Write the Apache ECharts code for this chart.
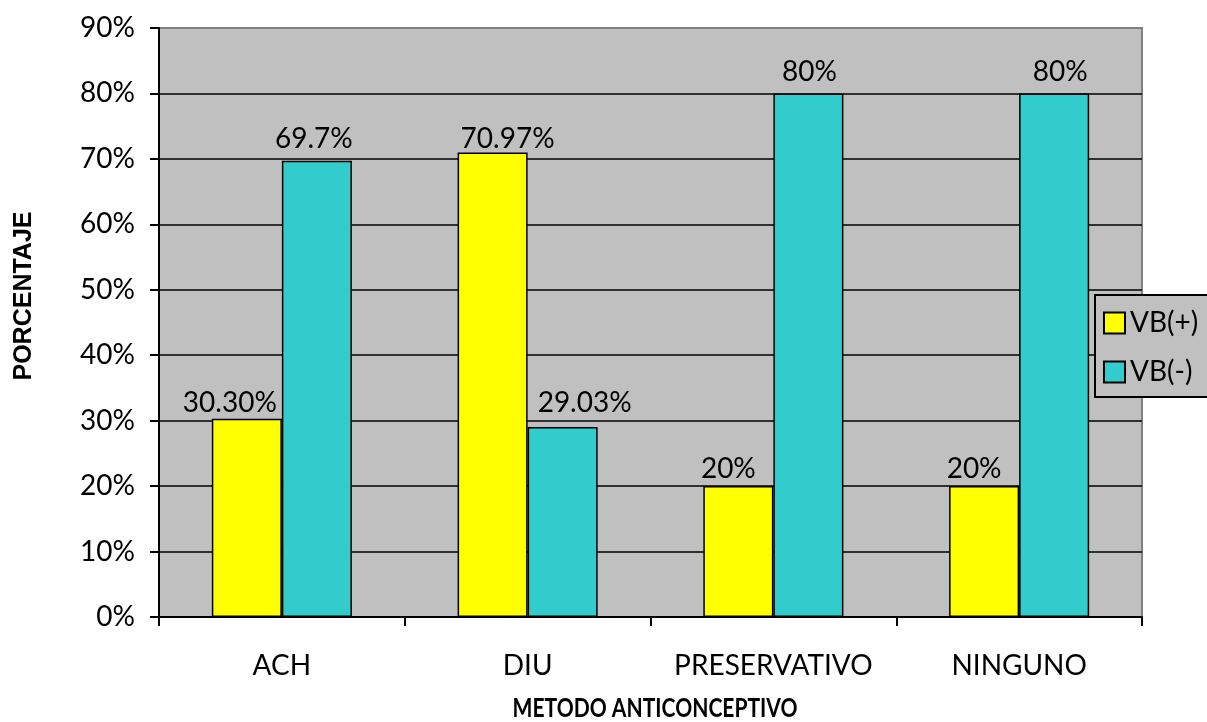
<!DOCTYPE html>
<html>
<head>
<meta charset="utf-8">
<script src="https://cdn.jsdelivr.net/npm/echarts@6/dist/echarts.min.js"></script>
<style>
  html, body { margin: 0; padding: 0; background: #fff; }
  #chart { width: 1207px; height: 722px; }
</style>
</head>
<body>
<div id="chart"></div>
<script>
// Métodos anticonceptivos y resultado VB
const categories = ['ACH', 'DIU', 'PRESERVATIVO', 'NINGUNO'];
const seriesNames = ['VB(+)', 'VB(-)'];
const vbPositivo = [30.30, 70.97, 20, 20];
const vbNegativo = [69.7, 29.03, 80, 80];
// decimals shown in each value label
const vbPositivoDecimals = [2, 2, 0, 0];
const vbNegativoDecimals = [1, 2, 0, 0];
const yTicks = [0, 10, 20, 30, 40, 50, 60, 70, 80, 90];

// hand-placed label nudges [dx, dy]
const posLabelNudge = [[-17, 1], [15, 3], [-10, 0], [-10, 0]];
const negLabelNudge = [[-3, -5], [22, -7], [1, -4], [6, -4]];

const FONT = 'Lato, "Open Sans", sans-serif';
const TEXT_SIZE = 28;

function buildData(values, decimals, nudges) {
  return values.map((v, i) => ({
    value: v,
    label: {
      offset: nudges[i],
      formatter: () => v.toFixed(decimals[i]) + '%'
    }
  }));
}

const labelStyle = {
  show: true,
  position: 'top',
  distance: 3,
  color: '#000',
  fontFamily: FONT,
  fontSize: TEXT_SIZE,
  lineHeight: TEXT_SIZE
};

const chart = echarts.init(document.getElementById('chart'), null, { renderer: 'canvas' });

chart.setOption({
  animation: false,
  backgroundColor: '#ffffff',
  grid: {
    left: 159, right: 65, top: 28, bottom: 105,
    show: true,
    backgroundColor: '#C0C0C0',
    borderColor: '#808080',
    borderWidth: 2
  },
  legend: {
    orient: 'vertical',
    left: 1095,
    top: 295,
    data: seriesNames,
    icon: 'rect',
    itemWidth: 21,
    itemHeight: 21,
    itemGap: 21,
    padding: [14, 40, 11, 8],
    backgroundColor: '#C0C0C0',
    borderColor: '#000',
    borderWidth: 2,
    borderRadius: 0,
    textStyle: { color: '#000', fontFamily: FONT, fontSize: TEXT_SIZE, lineHeight: 26 }
  },
  xAxis: {
    type: 'category',
    data: categories,
    axisLine: { lineStyle: { color: '#000', width: 2 } },
    axisTick: { show: true, interval: 0, length: 9, lineStyle: { color: '#000', width: 2 } },
    axisLabel: { interval: 0, color: '#000', fontFamily: FONT, fontSize: TEXT_SIZE, margin: 35 },
    splitLine: { show: false }
  },
  yAxis: {
    type: 'value',
    min: yTicks[0],
    max: yTicks[yTicks.length - 1],
    interval: yTicks[1] - yTicks[0],
    axisLine: { show: true, lineStyle: { color: '#000', width: 2 } },
    axisTick: { show: true, length: 9, lineStyle: { color: '#000', width: 2 } },
    axisLabel: {
      color: '#000', fontFamily: FONT, fontSize: TEXT_SIZE, margin: 24,
      formatter: v => v + '%'
    },
    splitLine: {
      show: true,
      lineStyle: {
        width: 1.5,
        color: yTicks.map((t, i) => i === yTicks.length - 1 ? '#808080' : '#000')
      }
    }
  },
  series: [
    {
      name: seriesNames[0],
      type: 'bar',
      barGap: '0%',
      barCategoryGap: '43%',
      data: buildData(vbPositivo, vbPositivoDecimals, posLabelNudge),
      itemStyle: { color: '#FFFF00', borderColor: '#000', borderWidth: 1.5 },
      label: labelStyle
    },
    {
      name: seriesNames[1],
      type: 'bar',
      barGap: '0%',
      barCategoryGap: '43%',
      data: buildData(vbNegativo, vbNegativoDecimals, negLabelNudge),
      itemStyle: { color: '#33CCCC', borderColor: '#000', borderWidth: 1.5 },
      label: labelStyle
    }
  ],
  graphic: [
    {
      type: 'text',
      x: 24, y: 296,
      rotation: Math.PI / 2,
      style: {
        text: 'PORCENTAJE',
        fill: '#000',
        font: 'bold 25px "Liberation Sans", Arial, sans-serif',
        textAlign: 'center',
        textVerticalAlign: 'middle'
      }
    },
    {
      type: 'text',
      x: 655, y: 709,
      scaleX: 0.81,
      style: {
        text: 'METODO ANTICONCEPTIVO',
        fill: '#000',
        font: 'bold 26px Lato, "Open Sans", sans-serif',
        textAlign: 'center',
        textVerticalAlign: 'middle'
      }
    }
  ]
});
</script>
</body>
</html>
